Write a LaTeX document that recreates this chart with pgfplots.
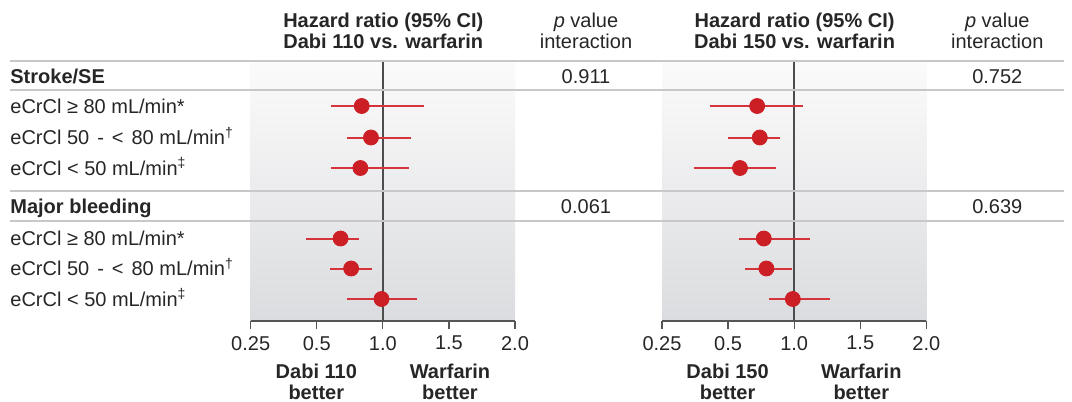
\documentclass[border=0pt]{standalone}
\usepackage{pgfplots}
\pgfplotsset{compat=1.18}
\usepackage{pgfplotstable}
\usepackage{fontspec}
\setmainfont{Liberation Sans}
\definecolor{txt}{HTML}{262626}
\definecolor{sep}{HTML}{C8C8C8}
\definecolor{shtop}{HTML}{FBFBFB}
\definecolor{shbot}{HTML}{DBDCDF}
\definecolor{vline}{HTML}{4D4D4D}
\definecolor{axc}{HTML}{555555}
\definecolor{mk}{HTML}{CC1E25}
\definecolor{ci}{HTML}{D6343B}

% y = minus pixel row; hazard ratios
\pgfplotstableread{
y hr
-106 0.84
-137.5 0.91
-168 0.83
-238.5 0.68
-268.5 0.76
-299 0.99
}\ptsL
\pgfplotstableread{
x y
0.61 -106
1.31 -106
nan nan
0.73 -137.5
1.21 -137.5
nan nan
0.61 -168
1.20 -168
nan nan
0.46 -238.5
0.82 -238.5
nan nan
0.60 -268.5
0.92 -268.5
nan nan
0.73 -299
1.26 -299
}\ciL
\pgfplotstableread{
y hr
-106 0.72
-137.5 0.74
-168 0.59
-238.5 0.77
-268.5 0.79
-299 0.99
}\ptsR
\pgfplotstableread{
x y
0.43 -106
1.07 -106
nan nan
0.50 -137.5
0.89 -137.5
nan nan
0.37 -168
0.86 -168
nan nan
0.58 -238.5
1.12 -238.5
nan nan
0.63 -268.5
0.98 -268.5
nan nan
0.81 -299
1.27 -299
}\ciR

\pgfplotsset{forest/.style={
  scale only axis, width=132.15pt, height=130pt,
  anchor=south west,
  xmin=0, xmax=4, ymin=-321, ymax=-61,
  x filter/.expression={(x<0.5) ? (4*(x-0.25)) : (2*x)},
  axis background/.style={shade, top color=shtop, bottom color=shbot},
  axis x line*=bottom, hide y axis,
  x axis line style={draw=axc, line width=0.6pt},
  xtick={0,1,2,3,4},
  xticklabels={0.25,0.5,1.0,1.5,2.0},
  tick align=outside, major tick length=4pt,
  tick style={draw=axc, line width=0.6pt},
  ticklabel style={font=\fontsize{10}{12}\selectfont, text=txt},
  /pgf/number format/assume math mode=true,
  unbounded coords=jump, clip=false,
}}
\newcommand{\ws}{\hspace{4pt}}

\begin{document}
\begin{tikzpicture}
\begin{scope}[x=0.5pt,y=-0.5pt]
\useasboundingbox (0,0) rectangle (1072,402);
\end{scope}

\begin{axis}[forest, at={(125.35pt,-160.5pt)}]
\addplot[vline, line width=0.75pt] coordinates {(1,-61) (1,-321)};
\addplot[ci, line width=1pt] table[x=x,y=y] {\ciL};
\addplot[only marks, mark=*, mark size=3.75pt, mark options={fill=mk, draw=mk}] table[x=hr,y=y] {\ptsL};
\end{axis}

\begin{axis}[forest, at={(331pt,-160.5pt)}]
\addplot[vline, line width=0.75pt] coordinates {(1,-61) (1,-321)};
\addplot[ci, line width=1pt] table[x=x,y=y] {\ciR};
\addplot[only marks, mark=*, mark size=3.75pt, mark options={fill=mk, draw=mk}] table[x=hr,y=y] {\ptsR};
\end{axis}

\begin{scope}[x=0.5pt,y=-0.5pt, every node/.style={inner sep=0pt, text=txt, font=\fontsize{10}{10.5}\selectfont}]
% separators
\foreach \yy in {61,90,191,221} \draw[sep, line width=0.75pt] (10,\yy) -- (1064,\yy);
% headers
\node[align=center, font=\fontsize{10}{10.5}\selectfont\bfseries] at (383.3,31) {Hazard ratio (95\% CI)\\Dabi 110 vs. warfarin};
\node[align=center] at (586,31) {\textit{p} value\\interaction};
\node[align=center, font=\fontsize{10}{10.5}\selectfont\bfseries] at (794.6,31) {Hazard ratio (95\% CI)\\Dabi 150 vs. warfarin};
\node[align=center] at (997.3,31) {\textit{p} value\\interaction};
% row labels
\node[anchor=base west, font=\fontsize{10}{10.5}\selectfont\bfseries] at (10,83) {Stroke/SE};
\node[anchor=base west] at (10,113) {eCrCl ≥ 80 mL/min*};
\node[anchor=base west] at (10,144.5) {eCrCl 50\ws-\ws<\ws80 mL/min\textsuperscript{†}};
\node[anchor=base west] at (10,175) {eCrCl < 50 mL/min\textsuperscript{‡}};
\node[anchor=base west, font=\fontsize{10}{10.5}\selectfont\bfseries] at (10,213) {Major bleeding};
\node[anchor=base west] at (10,245.5) {eCrCl ≥ 80 mL/min*};
\node[anchor=base west] at (10,275.5) {eCrCl 50\ws-\ws<\ws80 mL/min\textsuperscript{†}};
\node[anchor=base west] at (10,306) {eCrCl < 50 mL/min\textsuperscript{‡}};
% p values
\node[anchor=base] at (586,83) {0.911};
\node[anchor=base] at (997.3,83) {0.752};
\node[anchor=base] at (586,213) {0.061};
\node[anchor=base] at (997.3,213) {0.639};
% bottom labels
\node[align=center, font=\fontsize{10}{10.5}\selectfont\bfseries] at (316.3,382) {Dabi 110\\better};
\node[align=center, font=\fontsize{10}{10.5}\selectfont\bfseries] at (450,382) {Warfarin\\better};
\node[align=center, font=\fontsize{10}{10.5}\selectfont\bfseries] at (727.6,382) {Dabi 150\\better};
\node[align=center, font=\fontsize{10}{10.5}\selectfont\bfseries] at (861.3,382) {Warfarin\\better};
\end{scope}
\end{tikzpicture}
\end{document}
